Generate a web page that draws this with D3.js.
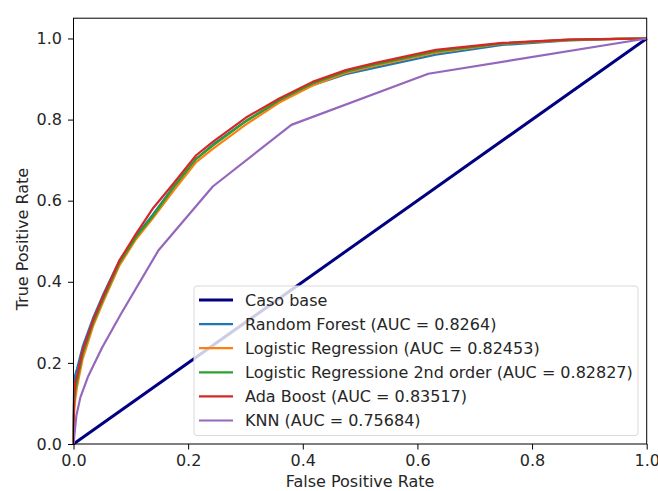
<!DOCTYPE html>
<html>
<head>
<meta charset="utf-8">
<script src="https://cdn.jsdelivr.net/npm/d3@7"></script>
<style>
  body { margin: 0; background: #fff; }
  svg { font-family: "DejaVu Sans", sans-serif; }
</style>
</head>
<body>
<svg width="658" height="491"></svg>
<script>
// shared false positive rate grid for the four main models
const fpr = [0, 0.001, 0.003, 0.006, 0.016, 0.034, 0.051, 0.08, 0.109, 0.138, 0.173, 0.214,
    0.243, 0.301, 0.359, 0.417, 0.475, 0.527, 0.632, 0.748, 0.864, 0.95, 1];

const tprRF = [0, 0.14, 0.17, 0.185, 0.24, 0.31, 0.366, 0.452, 0.513, 0.565, 0.632, 0.703,
    0.738, 0.797, 0.845, 0.885, 0.912, 0.928, 0.96, 0.984, 0.995, 0.999, 1];
const tprLR = [0, 0.08, 0.11, 0.14, 0.21, 0.29, 0.348, 0.44, 0.505, 0.556, 0.622, 0.695,
    0.728, 0.788, 0.842, 0.884, 0.915, 0.933, 0.965, 0.987, 0.996, 0.999, 1];
const tprLR2 = [0, 0.10, 0.13, 0.155, 0.222, 0.298, 0.355, 0.446, 0.51, 0.561, 0.63, 0.703,
    0.736, 0.796, 0.848, 0.889, 0.918, 0.936, 0.968, 0.988, 0.997, 0.999, 1];
const tprAda = [0, 0.12, 0.15, 0.166, 0.231, 0.305, 0.362, 0.452, 0.518, 0.58, 0.64, 0.712,
    0.745, 0.805, 0.852, 0.893, 0.922, 0.940, 0.972, 0.989, 0.997, 0.999, 1];

// KNN has only a few thresholds
const fprKNN = [0, 0.005, 0.012, 0.025, 0.05, 0.083, 0.148, 0.243, 0.380, 0.619, 1];
const tprKNN = [0, 0.07, 0.115, 0.165, 0.238, 0.321, 0.477, 0.635, 0.787, 0.913, 1];

const baseX = [0, 1];
const baseY = [0, 1];

const xTicks = [0, 0.2, 0.4, 0.6, 0.8, 1.0];
const yTicks = [0, 0.2, 0.4, 0.6, 0.8, 1.0];

const series = [
    { name: "Caso base", x: baseX, y: baseY, color: "#000080", width: 3 },
    { name: "Random Forest (AUC = 0.8264)", x: fpr, y: tprRF, color: "#1f77b4", width: 2.2 },
    { name: "Logistic Regression (AUC = 0.82453)", x: fpr, y: tprLR, color: "#ff7f0e", width: 2.2 },
    { name: "Logistic Regressione 2nd order (AUC = 0.82827)", x: fpr, y: tprLR2, color: "#2ca02c", width: 2.2 },
    { name: "Ada Boost (AUC = 0.83517)", x: fpr, y: tprAda, color: "#d62728", width: 2.2 },
    { name: "KNN (AUC = 0.75684)", x: fprKNN, y: tprKNN, color: "#9467bd", width: 2.2 },
];

const fontSize = 16;
const plotLeft = 73.5, plotRight = 646.7, plotTop = 18.2, plotBottom = 444;

const x = d3.scaleLinear().domain([0, 1]).range([plotLeft, plotRight]);
const y = d3.scaleLinear().domain([0, 1.05]).range([plotBottom, plotTop]);

const svg = d3.select("svg");

const line = d3.line()
    .x(d => x(d[0]))
    .y(d => y(d[1]));

const curves = svg.append("g");
series.forEach(s => {
    curves.append("path")
        .datum(s.x.map((v, i) => [v, s.y[i]]))
        .attr("fill", "none")
        .attr("stroke", s.color)
        .attr("stroke-width", s.width)
        .attr("stroke-linejoin", "round")
        .attr("d", line);
});

// frame
svg.append("rect")
    .attr("x", plotLeft).attr("y", plotTop)
    .attr("width", plotRight - plotLeft).attr("height", plotBottom - plotTop)
    .attr("fill", "none").attr("stroke", "#000").attr("stroke-width", 1);

const xAxis = svg.append("g")
    .attr("transform", `translate(0,${plotBottom})`)
    .call(d3.axisBottom(x).tickValues(xTicks).tickFormat(d3.format(".1f")).tickSize(5.5).tickPadding(5));
const yAxis = svg.append("g")
    .attr("transform", `translate(${plotLeft},0)`)
    .call(d3.axisLeft(y).tickValues(yTicks).tickFormat(d3.format(".1f")).tickSize(5.5).tickPadding(6));

[xAxis, yAxis].forEach(a => {
    a.select(".domain").remove();
    a.selectAll("text").attr("font-size", fontSize).attr("fill", "#262626")
        .attr("font-family", "DejaVu Sans");
    a.selectAll("line").attr("stroke", "#000");
});
xAxis.selectAll("text").attr("dy", "0.72em");

svg.append("text")
    .attr("x", (plotLeft + plotRight) / 2).attr("y", 487)
    .attr("text-anchor", "middle").attr("font-size", fontSize).attr("fill", "#262626")
    .text("False Positive Rate");

svg.append("text")
    .attr("transform", `translate(28,${(plotTop + plotBottom) / 2 + 8}) rotate(-90)`)
    .attr("text-anchor", "middle").attr("font-size", fontSize).attr("fill", "#262626")
    .text("True Positive Rate");

// legend
const legend = svg.append("g");
legend.append("rect")
    .attr("x", 194).attr("y", 286)
    .attr("width", 444).attr("height", 149.5)
    .attr("rx", 3)
    .attr("fill", "#fff").attr("fill-opacity", 0.8)
    .attr("stroke", "#d9d9d9").attr("stroke-width", 1);

series.forEach((s, i) => {
    const cy = 300 + i * 24.1;
    legend.append("line")
        .attr("x1", 199).attr("x2", 233)
        .attr("y1", cy).attr("y2", cy)
        .attr("stroke", s.color).attr("stroke-width", s.width);
    legend.append("text")
        .attr("x", 245).attr("y", cy)
        .attr("dy", "0.35em")
        .attr("font-size", fontSize).attr("fill", "#262626")
        .text(s.name);
});
</script>
</body>
</html>
